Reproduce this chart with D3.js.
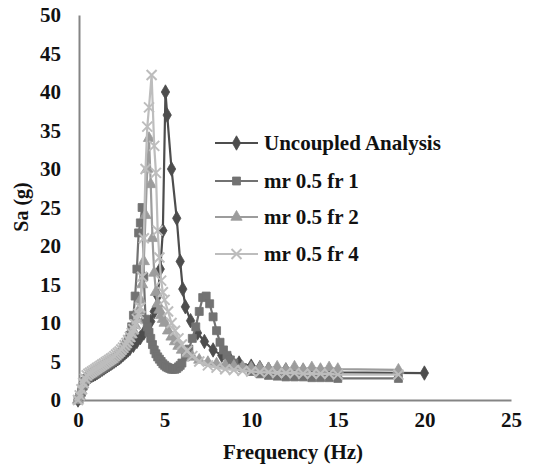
<!DOCTYPE html>
<html>
<head>
<meta charset="utf-8">
<script src="https://cdn.jsdelivr.net/npm/d3@7"></script>
<style>
  body { margin: 0; background: #fff; }
  text { font-family: "Liberation Serif", "Times New Roman", serif; font-weight: bold; }
</style>
</head>
<body>
<script>
const w = 542;
const h = 475;

const seriesNames = ["Uncoupled Analysis", "mr 0.5 fr 1", "mr 0.5 fr 2", "mr 0.5 fr 4"];
const xTicks = [0, 5, 10, 15, 20, 25];
const yTicks = [0, 5, 10, 15, 20, 25, 30, 35, 40, 45, 50];

// frequency (Hz) / Sa (g)
const lowFreq = [0, 0.1, 0.2, 0.3, 0.4, 0.5, 0.6, 0.7, 0.8, 0.9, 1.0, 1.1, 1.2, 1.3, 1.4, 1.5, 1.6, 1.7, 1.8, 1.9, 2.0, 2.1, 2.2, 2.3, 2.4, 2.5, 2.6, 2.7, 2.8, 2.9, 3.0];

const uncFreq = lowFreq.concat([3.2, 3.4, 3.6, 3.8, 4.0, 4.2, 4.4, 4.6, 4.75, 4.9, 5.05, 5.15, 5.4, 5.7, 5.9, 6.05, 6.2, 6.5, 6.9, 7.3, 7.8, 8.3, 8.8, 9.3, 10, 10.5, 11, 12, 13, 14, 15, 20]);
const uncVal = [0, 0.3, 0.9, 1.6, 2.2, 2.6, 2.9, 3.05, 3.2, 3.3, 3.4, 3.55, 3.7, 3.85, 4.0, 4.15, 4.3, 4.45, 4.6, 4.75, 4.9, 5.05, 5.2, 5.35, 5.5, 5.7, 5.9, 6.1, 6.3, 6.5, 6.7,
  7.1, 7.6, 8.1, 8.7, 9.3, 10.2, 11.5, 13.5, 17, 22, 40, 37, 30, 23.6, 18, 14.4, 12.1, 10.3, 8.7, 7.6, 6.5, 5.8, 5.2, 4.8, 4.4, 4.2, 4.0, 3.9, 3.8, 3.7, 3.6, 3.5];

const fr1Freq = lowFreq.concat([3.1, 3.2, 3.3, 3.4, 3.5, 3.6, 3.7, 3.8, 3.9, 4.0, 4.1, 4.2, 4.3, 4.4, 4.5, 4.6, 4.7, 4.8, 4.9, 5.0, 5.1, 5.2, 5.3, 5.4, 5.5, 5.6, 5.7, 5.8, 5.9, 6.0, 6.2, 6.4, 6.6, 6.8, 7.0, 7.2, 7.4, 7.6, 7.8, 8.0, 8.2, 8.4, 8.6, 8.8, 9.0, 9.5, 10, 10.5, 11, 11.5, 12, 12.5, 13, 13.5, 14, 14.5, 15, 18.5]);
const fr1Val = [0, 0.4, 1.0, 1.8, 2.4, 2.8, 3.0, 3.15, 3.3, 3.4, 3.5, 3.65, 3.8, 3.95, 4.1, 4.25, 4.4, 4.55, 4.7, 4.85, 5.0, 5.2, 5.4, 5.65, 5.9, 6.2, 6.5, 6.9, 7.3, 7.8, 8.4,
  9.5, 11, 13.5, 17, 21.7, 23, 25, 16, 10.5, 9.5, 8.8, 8.0, 7.2, 6.5, 6.0, 5.6, 5.3, 5.0, 4.7, 4.5, 4.3, 4.2, 4.1, 4.0, 4.0, 4.0, 4.1, 4.3, 4.5, 4.8, 5.6, 6.6, 8.0, 9.5, 11.5, 13.3, 13.5, 12.5, 10.8, 9.0, 7.5, 6.5, 5.8, 5.2, 4.8, 4.2, 3.7, 3.4, 3.2, 3.1, 3.0, 3.0, 3.0, 2.9, 2.9, 2.9, 2.8, 2.8];

const fr2Freq = lowFreq.concat([3.1, 3.2, 3.3, 3.4, 3.5, 3.6, 3.7, 3.8, 3.9, 4.0, 4.1, 4.2, 4.3, 4.4, 4.5, 4.6, 4.7, 4.8, 4.9, 5.0, 5.2, 5.4, 5.6, 5.8, 6.0, 6.3, 6.6, 7.0, 7.5, 8.0, 8.5, 9.0, 9.5, 10, 10.5, 11, 11.5, 12, 12.5, 13, 13.5, 14, 14.5, 15, 18.5]);
const fr2Val = [0, 0.5, 1.2, 2.0, 2.6, 3.0, 3.2, 3.35, 3.5, 3.65, 3.8, 3.95, 4.1, 4.25, 4.4, 4.55, 4.7, 4.85, 5.0, 5.15, 5.3, 5.5, 5.7, 5.9, 6.1, 6.35, 6.6, 6.9, 7.2, 7.6, 8.0,
  8.5, 9.0, 9.7, 10.5, 11.6, 13, 15, 18, 24, 30, 34, 28, 21, 16.5, 14, 12.5, 11.7, 11, 10.5, 10, 9, 8.2, 7.6, 7.0, 6.5, 6.0, 5.6, 5.2, 4.9, 4.7, 4.5, 4.4, 4.3, 4.2, 4.2, 4.1, 4.3, 4.0, 4.3, 4.0, 4.2, 4.0, 4.2, 4.0, 3.9];

const fr4Freq = lowFreq.concat([3.1, 3.2, 3.3, 3.4, 3.5, 3.6, 3.7, 3.8, 3.9, 4.0, 4.1, 4.25, 4.4, 4.5, 4.6, 4.7, 4.8, 4.9, 5.0, 5.2, 5.4, 5.6, 5.8, 6.0, 6.3, 6.6, 7.0, 7.5, 8.0, 8.5, 9.0, 9.5, 10, 10.5, 11, 11.5, 12, 12.5, 13, 13.5, 14, 14.5, 15, 18.5]);
const fr4Val = [0, 0.6, 1.4, 2.2, 2.8, 3.2, 3.4, 3.55, 3.7, 3.85, 4.0, 4.15, 4.3, 4.45, 4.6, 4.75, 4.9, 5.05, 5.2, 5.35, 5.5, 5.7, 5.9, 6.1, 6.3, 6.55, 6.8, 7.1, 7.4, 7.8, 8.2,
  8.7, 9.2, 9.8, 10.5, 11.2, 12, 16, 21, 30, 35.5, 38, 42.2, 33, 29.5, 22, 18.5, 15.5, 14, 13, 11.5, 10, 9, 8, 7.2, 6.4, 5.7, 5.0, 4.5, 4.2, 4.0, 3.9, 3.8, 3.7, 3.6, 3.6, 3.5, 3.5, 3.5, 3.4, 3.4, 3.4, 3.4, 3.3, 3.3];

const svg = d3.select("body").append("svg").attr("width", w).attr("height", h);

const xScale = d3.scaleLinear().domain([0, 25]).range([78, 511]);
const yScale = d3.scaleLinear().domain([0, 50]).range([400, 15]);

const styles = [
  { color: "#4d4d4d", marker: "diamond" },
  { color: "#727272", marker: "square" },
  { color: "#9c9c9c", marker: "triangle" },
  { color: "#bdbdbd", marker: "x" }
];

const series = [
  d3.zip(uncFreq, uncVal),
  d3.zip(fr1Freq, fr1Val),
  d3.zip(fr2Freq, fr2Val),
  d3.zip(fr4Freq, fr4Val)
];

// axes
const xAxis = d3.axisBottom(xScale).tickValues(xTicks).tickSize(0).tickPadding(12);
const yAxis = d3.axisLeft(yScale).tickValues(yTicks).tickSize(0).tickPadding(18);

const gx = svg.append("g").attr("transform", "translate(0,400)").call(xAxis);
const gy = svg.append("g").attr("transform", "translate(79,0)").call(yAxis);

[gx, gy].forEach(function (g) {
  g.select(".domain").attr("stroke", "#858585").attr("stroke-width", 2);
  g.selectAll("text").attr("font-family", "Liberation Serif, serif").attr("font-size", 21).attr("font-weight", "bold").attr("fill", "#111");
});

svg.append("text")
  .attr("x", 293).attr("y", 459)
  .attr("text-anchor", "middle")
  .attr("font-size", 21).attr("fill", "#111")
  .text("Frequency (Hz)");

svg.append("text")
  .attr("transform", "translate(28,207) rotate(-90)")
  .attr("text-anchor", "middle")
  .attr("font-size", 20).attr("fill", "#111")
  .text("Sa (g)");

function drawMarker(g, type, color, cx, cy) {
  if (type === "x") {
    const s = 5;
    g.append("path")
      .attr("d", "M" + (cx - s) + "," + (cy - s) + "L" + (cx + s) + "," + (cy + s) +
        "M" + (cx - s) + "," + (cy + s) + "L" + (cx + s) + "," + (cy - s))
      .attr("stroke", color).attr("stroke-width", 2).attr("fill", "none");
    return;
  }
  const sym = type === "diamond" ? d3.symbolDiamond : type === "square" ? d3.symbolSquare : d3.symbolTriangle;
  const size = type === "diamond" ? 60 : type === "square" ? 64 : 55;
  g.append("path")
    .attr("d", d3.symbol().type(sym).size(size)())
    .attr("transform", "translate(" + cx + "," + cy + ")")
    .attr("fill", color).attr("stroke", color).attr("stroke-width", 0.8);
}

const line = d3.line()
  .x(function (d) { return xScale(d[0]); })
  .y(function (d) { return yScale(d[1]); });

series.forEach(function (data, i) {
  const g = svg.append("g");
  g.append("path")
    .datum(data)
    .attr("d", line)
    .attr("fill", "none")
    .attr("stroke", styles[i].color)
    .attr("stroke-width", 2.2);
  data.forEach(function (d) {
    drawMarker(g, styles[i].marker, styles[i].color, xScale(d[0]), yScale(d[1]));
  });
});

// legend
const legend = svg.append("g");
const legendY = [143, 181, 217, 254];
seriesNames.forEach(function (name, i) {
  legend.append("line")
    .attr("x1", 215).attr("x2", 258)
    .attr("y1", legendY[i]).attr("y2", legendY[i])
    .attr("stroke", styles[i].color).attr("stroke-width", 2.2);
  drawMarker(legend, styles[i].marker, styles[i].color, 236.5, legendY[i]);
  legend.append("text")
    .attr("x", 264).attr("y", legendY[i])
    .attr("dy", "0.35em")
    .attr("font-size", 21).attr("fill", "#111")
    .text(name);
});
</script>
</body>
</html>
